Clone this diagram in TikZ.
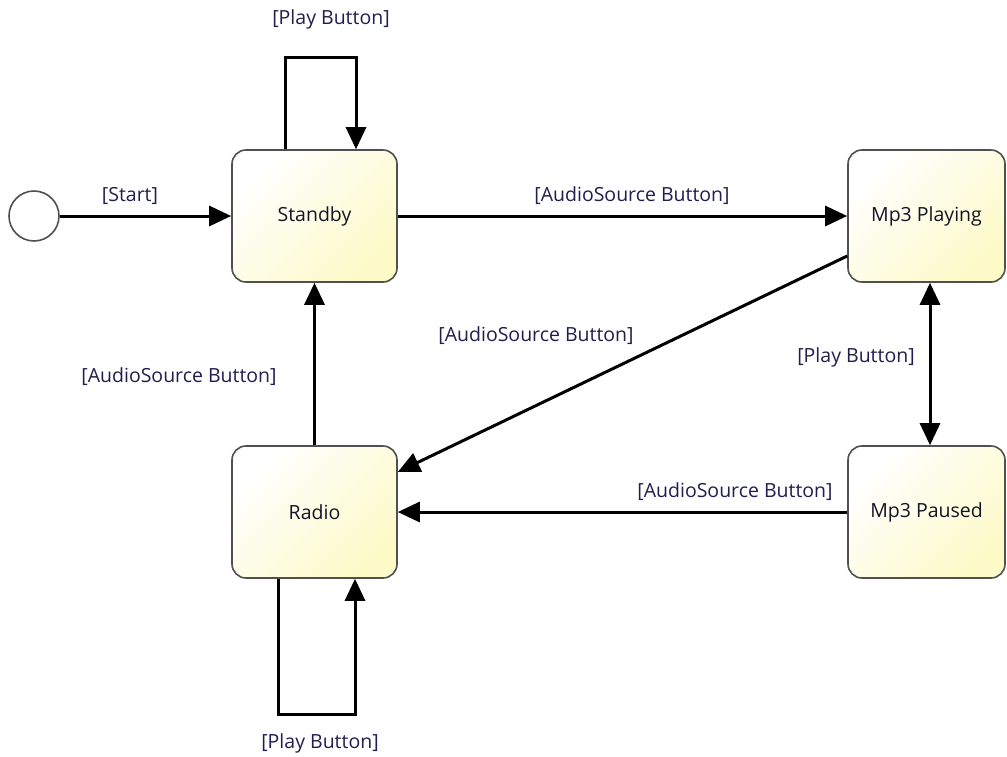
\documentclass[tikz,border=0pt]{standalone}
\usepackage{fontspec}
\setmainfont{Open Sans}
\usetikzlibrary{arrows.meta,calc}

\definecolor{stateFill}{RGB}{253,250,200}
\definecolor{stateLine}{RGB}{80,80,80}
\definecolor{labelInk}{RGB}{32,30,78}
\definecolor{stateInk}{RGB}{20,20,40}

\tikzset{
  state/.style={draw=stateLine, line width=1.6pt, rounded corners=14pt,
    minimum width=165pt, minimum height=132pt, inner sep=0pt,
    top color=white, bottom color=stateFill, shading angle=45,
    text=stateInk, font=\fontsize{19.5}{23}\selectfont},
  narrowstate/.style={state, minimum width=157pt},
  initial/.style={draw=stateLine, line width=1.6pt, circle, fill=white,
    minimum size=50pt, inner sep=0pt},
  conn/.style={draw=black, line width=3pt,
    -{Triangle[length=22pt,width=20pt]}},
  lbl/.style={text=labelInk, font=\fontsize{19.5}{23}\selectfont, inner sep=1pt},
}

\begin{document}
\begin{tikzpicture}[x=1pt,y=-1pt]
  \useasboundingbox (0,0) rectangle (1007,756);

  % states
  \node[initial] (init) at (34,216) {};
  \node[state] (standby) at (314.5,216) {Standby};
  \node[narrowstate] (mp3play) at (926.5,216) {Mp3 Playing};
  \node[state] (radio) at (314.5,512) {Radio};
  \node[narrowstate] (mp3pause) at (926.5,512) {Mp3 Paused};

  % loop corner points
  \coordinate (sbLoopL) at ($(standby.north)+(-29.5,-92)$);
  \coordinate (rdLoopL) at ($(radio.south)+(-36.5,136)$);

  % transitions
  \draw[conn] (init) -- (standby);
  \draw[conn] (standby) -- (mp3play);
  \draw[conn] (radio) -- (standby);
  \draw[conn] ($(mp3play.west)+(0,40)$) -- ($(radio.east)+(0,-40)$);
  \draw[conn,{Triangle[length=22pt,width=20pt]}-{Triangle[length=22pt,width=20pt]}]
    (mp3play.south) ++(3.5,0) coordinate (mpTop) -- (mpTop |- mp3pause.north);
  \draw[conn] (mp3pause) -- (radio);
  \draw[conn] ($(standby.north)+(-29.5,0)$) -- (sbLoopL) -| ($(standby.north)+(41.5,0)$);
  \draw[conn] ($(radio.south)+(-36.5,0)$) -- (rdLoopL) -| ($(radio.south)+(40.5,0)$);

  % transition labels
  \node[lbl] (lStart) at (130,196) {[Start]};
  \node[lbl] (lSbLoop) at (331,19) {[Play Button]};
  \node[lbl] (lSbMp3) at (632,196) {[AudioSource Button]};
  \node[lbl] (lRdSb) at (179,377) {[AudioSource Button]};
  \node[lbl] (lMp3Rd) at (536,336) {[AudioSource Button]};
  \node[lbl] (lPlayPause) at (856,357) {[Play Button]};
  \node[lbl] (lPauseRd) at (735,492) {[AudioSource Button]};
  \node[lbl] (lRdLoop) at (320,743) {[Play Button]};
\end{tikzpicture}
\end{document}
